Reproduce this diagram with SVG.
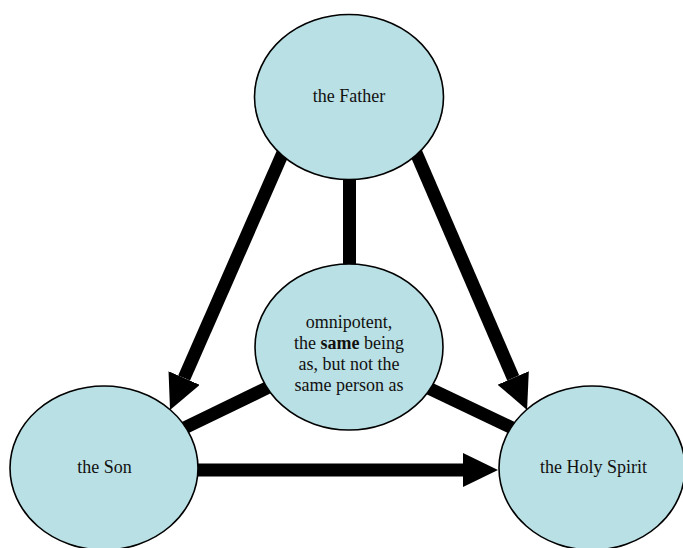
<svg xmlns="http://www.w3.org/2000/svg" width="683" height="548" viewBox="0 0 683 548">
<style>
.node{fill:#B9E0E4;stroke:#000;stroke-width:1.6}
.lbl{font-family:'Liberation Serif','Times New Roman',Times,serif;font-size:18px;fill:#111;text-anchor:middle}
.conn{stroke:#000;stroke-width:13;fill:none}
</style>
<defs>
<marker id="ah" markerUnits="userSpaceOnUse" markerWidth="36" markerHeight="36" refX="0" refY="17" orient="auto">
<path d="M0,0 L35,17 L0,34 Z" fill="#000"/>
</marker>
</defs>
<rect width="683" height="548" fill="#fff"/>
<g id="connectors">
<line class="conn" x1="285" y1="148" x2="184.1" y2="378" marker-end="url(#ah)"/>
<line class="conn" x1="414" y1="148" x2="513.2" y2="377.9" marker-end="url(#ah)"/>
<line class="conn" x1="190" y1="470" x2="463" y2="470" marker-end="url(#ah)"/>
<line class="conn" x1="349.5" y1="175" x2="349.5" y2="270"/>
<line class="conn" x1="275" y1="384" x2="176" y2="432"/>
<line class="conn" x1="422" y1="385" x2="523" y2="433"/>
</g>
<g id="father">
<ellipse class="node" cx="349" cy="97" rx="94.5" ry="82.5"/>
<text class="lbl" x="349" y="102">the Father</text>
</g>
<g id="center">
<ellipse class="node" cx="349" cy="347" rx="94" ry="83"/>
<text class="lbl" x="349" y="328">omnipotent,</text>
<text class="lbl" x="349" y="349">the <tspan font-weight="bold">same</tspan> being</text>
<text class="lbl" x="349" y="370">as, but not the</text>
<text class="lbl" x="349" y="391">same person as</text>
</g>
<g id="son">
<ellipse class="node" cx="104" cy="468" rx="94" ry="82"/>
<text class="lbl" x="104.5" y="473">the Son</text>
</g>
<g id="holyspirit">
<ellipse class="node" cx="592" cy="468" rx="93" ry="82"/>
<text class="lbl" x="593.5" y="473">the Holy Spirit</text>
</g>
</svg>
